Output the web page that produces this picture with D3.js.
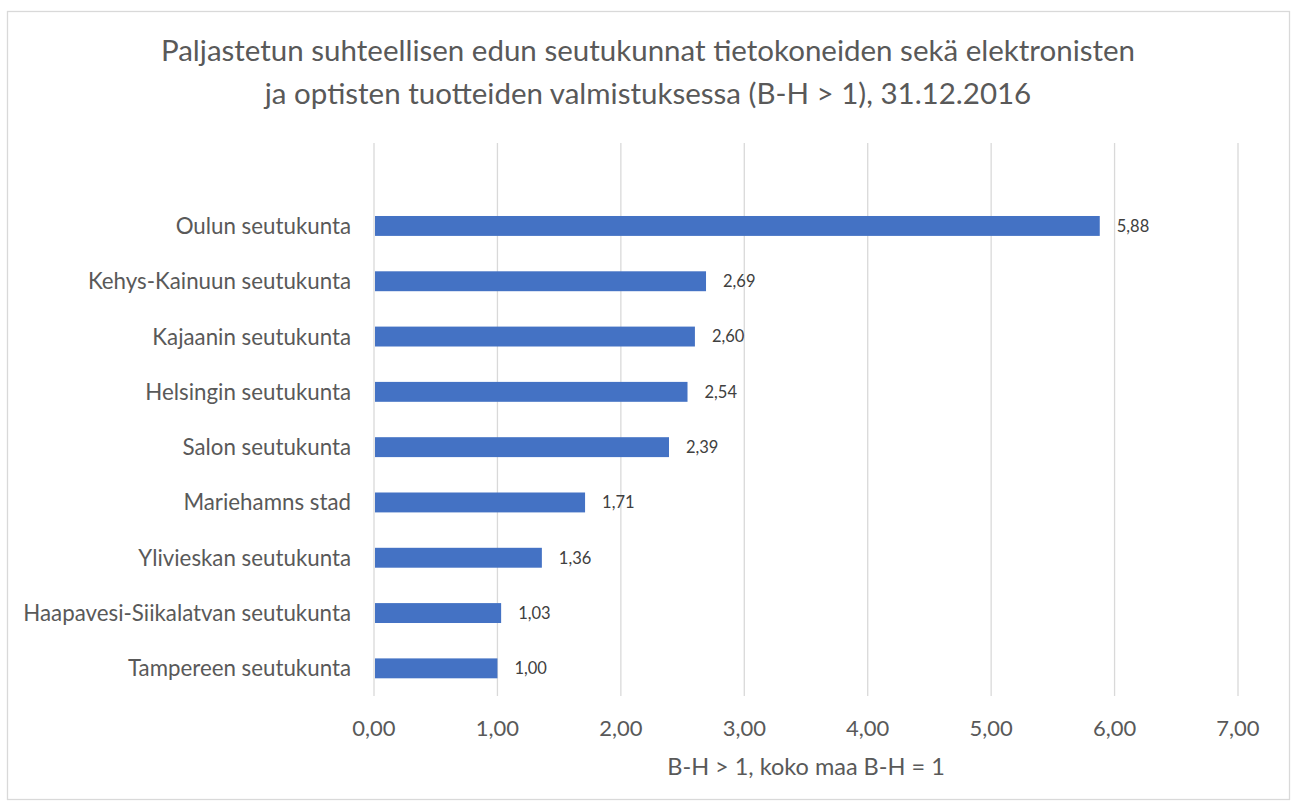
<!DOCTYPE html>
<html lang="fi">
<head>
  <meta charset="UTF-8">
  <title>Paljastetun suhteellisen edun seutukunnat</title>
  <script src="https://d3js.org/d3.v7.min.js"></script>
  <style>
      body {
          margin: 0;
          background: #fff;
      }

      svg text {
          font-family: Lato, "Open Sans", sans-serif;
          fill: #595959;
      }

      .grid line {
          stroke: #d9d9d9;
          stroke-width: 1.3px;
      }

      .bar {
          fill: #4472c4;
      }

      .value {
          font-size: 16.5px;
          fill: #404040;
      }
  </style>
</head>
<body>
<svg width="1298" height="806"></svg>
<script>

  const titleLines = [
    "Paljastetun suhteellisen edun seutukunnat tietokoneiden sekä elektronisten",
    "ja optisten tuotteiden valmistuksessa (B-H > 1), 31.12.2016"
  ];

  const regions = [
    "Oulun seutukunta",
    "Kehys-Kainuun seutukunta",
    "Kajaanin seutukunta",
    "Helsingin seutukunta",
    "Salon seutukunta",
    "Mariehamns stad",
    "Ylivieskan seutukunta",
    "Haapavesi-Siikalatvan seutukunta",
    "Tampereen seutukunta"
  ];

  const values = [5.88, 2.69, 2.60, 2.54, 2.39, 1.71, 1.36, 1.03, 1.00];

  const xTicks = [0, 1, 2, 3, 4, 5, 6, 7];

  const axisTitle = "B-H > 1, koko maa B-H = 1";

  const data = regions.map((r, i) => ({region: r, value: values[i]}));

  const svg = d3.select("svg"),
  width = +svg.attr("width"),
  height = +svg.attr("height");

  const fmt = v => d3.format(".2f")(v).replace(".", ",");

  // chart frame
  svg.append("rect")
  .attr("x", 7.5)
  .attr("y", 11.5)
  .attr("width", 1282)
  .attr("height", 788)
  .attr("fill", "#fff")
  .attr("stroke", "#d9d9d9")
  .attr("stroke-width", 1.3);

  const plot = {left: 374, right: 1238, top: 143, bottom: 696};

  const x = d3.scaleLinear()
  .domain([0, 7])
  .range([plot.left, plot.right]);

  // Excel leaves one empty slot above the first category
  const y = d3.scaleBand()
  .domain([""].concat(regions))
  .range([plot.top, plot.bottom])
  .paddingInner(0.64)
  .paddingOuter(0.32);

  svg.append("g")
  .attr("class", "grid")
  .selectAll("line")
  .data(xTicks)
  .enter().append("line")
  .attr("x1", d => x(d))
  .attr("x2", d => x(d))
  .attr("y1", plot.top)
  .attr("y2", plot.bottom);

  svg.append("g")
  .selectAll("rect")
  .data(data)
  .enter().append("rect")
  .attr("class", "bar")
  .attr("x", x(0) + 1)
  .attr("y", d => y(d.region))
  .attr("width", d => x(d.value) - x(0) - 1)
  .attr("height", y.bandwidth());

  svg.append("g")
  .selectAll("text")
  .data(data)
  .enter().append("text")
  .attr("class", "value")
  .attr("x", d => x(d.value) + 17)
  .attr("y", d => y(d.region) + y.bandwidth() / 2)
  .attr("dy", "0.35em")
  .text(d => fmt(d.value));

  // category labels
  svg.append("g")
  .selectAll("text")
  .data(data)
  .enter().append("text")
  .attr("x", plot.left - 23)
  .attr("y", d => y(d.region) + y.bandwidth() / 2)
  .attr("dy", "0.36em")
  .attr("text-anchor", "end")
  .style("font-size", "22.3px")
  .text(d => d.region);

  // tick labels
  svg.append("g")
  .selectAll("text")
  .data(xTicks)
  .enter().append("text")
  .attr("x", d => x(d))
  .attr("y", 736)
  .attr("text-anchor", "middle")
  .style("font-size", "22px")
  .text(d => fmt(d));

  svg.append("text")
  .attr("x", (plot.left + plot.right) / 2)
  .attr("y", 775)
  .attr("text-anchor", "middle")
  .style("font-size", "23.5px")
  .text(axisTitle);

  svg.append("g")
  .selectAll("text")
  .data(titleLines)
  .enter().append("text")
  .attr("x", 648)
  .attr("y", (d, i) => 61 + i * 43)
  .attr("text-anchor", "middle")
  .style("font-size", "29.5px")
  .text(d => d);

</script>
</body>
</html>
